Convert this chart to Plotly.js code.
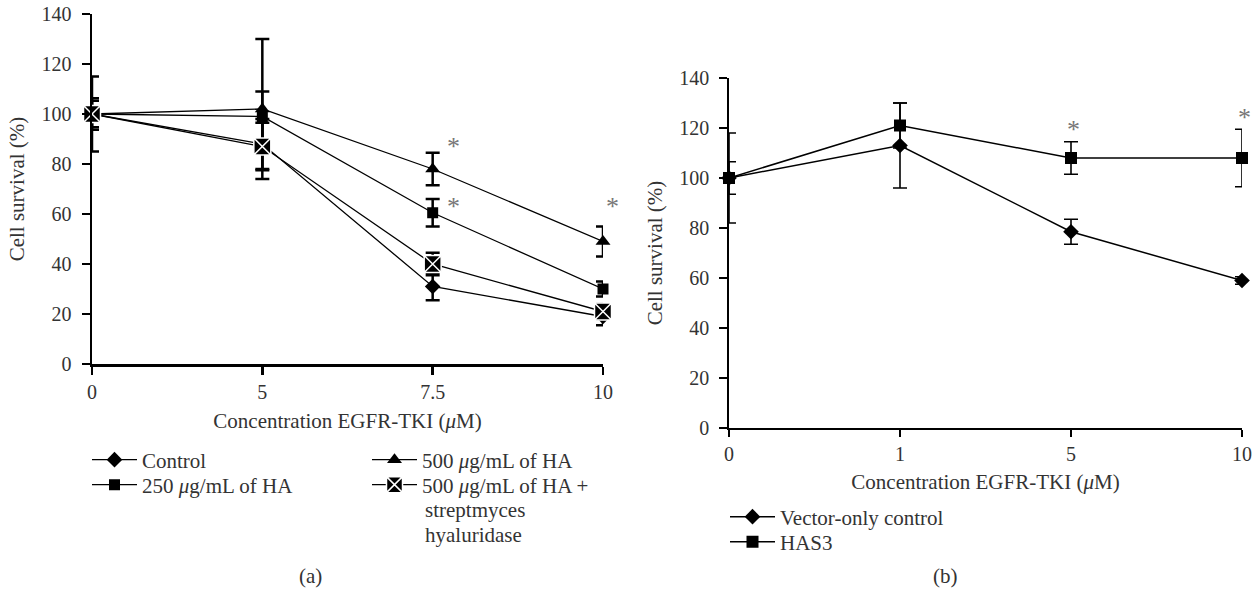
<!DOCTYPE html>
<html>
<head>
<meta charset="utf-8">
<script src="https://cdn.plot.ly/plotly-3.0.1.min.js"></script>
<style>html,body{margin:0;padding:0;background:#fff;}#chart{width:1256px;height:602px;}</style>
</head>
<body>
<div id="chart"></div>
<script>
// ---------- Panel (a) ----------
const concA = ["0", "5", "7.5", "10"];
const controlA = [100, 88, 31, 19];
const controlAErr = [15, 10, 5.5, 3.5];
const ha250 = [100, 99, 60.5, 30];
const ha250Err = [6.3, 10, 5.5, 3];
const ha500 = [100, 102, 78, 49];
const ha500Err = [5.3, 28, 6.5, 6];
const ha500Strep = [100, 87, 40, 21];
const ha500StrepErr = [3, 9.5, 4.5, 3];
const namesA = ["Control", "250 <i>μ</i>g/mL of HA", "500 <i>μ</i>g/mL of HA", "500 <i>μ</i>g/mL of HA +"];
const namesAextra = ["streptmyces", "hyaluridase"];
const starsA_x = ["7.5", "7.5", "10"];
const starsA_y = [89, 65, 65];
const starsA_shift = [21, 21, 9];

// ---------- Panel (b) ----------
const concB = ["0", "1", "5", "10"];
const vectorB = [100, 113, 78.5, 59];
const vectorBErr = [18, 17, 5, 1.5];
const has3B = [100, 121, 108, 108];
const has3BErr = [6.5, 9, 6.5, 11.5];
const namesB = ["Vector-only control", "HAS3"];
const starsB_x = ["5", "10"];
const starsB_y = [121.5, 126];

const yTicks = [0, 20, 40, 60, 80, 100, 120, 140];

const FONT = "Liberation Serif, Times New Roman, serif";
const TXT = "#333333";
const W = 1256, H = 602;

function tr(x, y, err, name, symbol, size, xa, ya, leg, lw, ew, mline) {
  return {
    type: "scatter", mode: "lines+markers", x: x, y: y, name: name,
    xaxis: xa, yaxis: ya, legend: leg, cliponaxis: false,
    line: {color: "#000", width: lw},
    marker: {symbol: symbol, size: size, color: "#000", line: mline || {width: 0, color: "#000"}},
    error_y: {type: "data", array: err, visible: true, color: "#000", thickness: ew, width: 7}
  };
}

const data = [
  tr(concA, controlA, controlAErr, namesA[0], "diamond", 12, "x", "y", "legend", 1.3, 2.5),
  tr(concA, ha250, ha250Err, namesA[1], "square", 11, "x", "y", "legend2", 1.3, 2.5),
  tr(concA, ha500, ha500Err, namesA[2], "triangle-up", 13, "x", "y", "legend3", 1.3, 2.5),
  tr(concA, ha500Strep, ha500StrepErr, namesA[3], "square-x", 17, "x", "y", "legend4", 1.3, 2.5, {width: 1.5, color: "#fff"}),
  tr(concB, vectorB, vectorBErr, namesB[0], "diamond", 12, "x2", "y2", "legend5", 1.5, 1.6),
  tr(concB, has3B, has3BErr, namesB[1], "square", 12, "x2", "y2", "legend6", 1.5, 1.6)
];

function xax(domain, cats, lw, tw, tl, tso, so) {
  return {
    domain: domain, type: "category", categoryorder: "array", categoryarray: cats,
    range: [0, cats.length - 1], showgrid: false, zeroline: false,
    showline: true, linecolor: "#000", linewidth: lw,
    ticks: "outside", ticklen: tl, tickwidth: tw, tickcolor: "#000",
    tickfont: {family: FONT, size: 20, color: TXT}, ticklabelstandoff: tso,
    title: {text: "Concentration EGFR-TKI (<i>μ</i>M)", font: {family: FONT, size: 21, color: TXT}, standoff: so},
    fixedrange: true
  };
}
function yax(domain, anchor, lw, tw, tl) {
  return {
    domain: domain, anchor: anchor, range: [0, 140], tickvals: yTicks,
    showgrid: false, zeroline: false, showline: true, linecolor: "#000", linewidth: lw,
    ticks: "outside", ticklen: tl, tickwidth: tw, tickcolor: "#000",
    tickfont: {family: FONT, size: 20, color: TXT}, ticklabelstandoff: 6,
    title: {text: "Cell survival (%)", font: {family: FONT, size: 21, color: TXT}, standoff: 11},
    fixedrange: true
  };
}

const annotations = [];
for (let i = 0; i < starsA_x.length; i++) {
  annotations.push({xref: "x", yref: "y", x: concA.indexOf(starsA_x[i]), y: starsA_y[i], xshift: starsA_shift[i], text: "*",
    showarrow: false, font: {family: FONT, size: 26, color: "#777"}, yanchor: "middle", yshift: -5});
}
for (let i = 0; i < starsB_x.length; i++) {
  annotations.push({xref: "x2", yref: "y2", x: concB.indexOf(starsB_x[i]), y: starsB_y[i], xshift: 2, text: "*",
    showarrow: false, font: {family: FONT, size: 26, color: "#777"}, yanchor: "middle", yshift: -5});
}
const extraY = [510, 535];
for (let i = 0; i < namesAextra.length; i++) {
  annotations.push({xref: "paper", yref: "paper", x: 423 / W, y: 1 - extraY[i] / H, text: namesAextra[i], showarrow: false,
    font: {family: FONT, size: 21, color: TXT}, xanchor: "left", yanchor: "middle"});
}
annotations.push({xref: "paper", yref: "paper", x: 310 / W, y: 1 - 576 / H, text: "(a)", showarrow: false,
  font: {family: FONT, size: 21, color: TXT}, xanchor: "center", yanchor: "middle"});
annotations.push({xref: "paper", yref: "paper", x: 945 / W, y: 1 - 576 / H, text: "(b)", showarrow: false,
  font: {family: FONT, size: 21, color: TXT}, xanchor: "center", yanchor: "middle"});

const legFont = {family: FONT, size: 21, color: TXT};
function leg(xpx, ypx) {
  return {x: xpx / W, y: 1 - (ypx - 20.5) / H, xanchor: "left", yanchor: "top", font: legFont,
    bgcolor: "rgba(0,0,0,0)", itemwidth: 45};
}
const layout = {
  width: W, height: H, margin: {l: 0, r: 0, t: 0, b: 0},
  paper_bgcolor: "#fff", plot_bgcolor: "#fff",
  xaxis: Object.assign(xax([92 / W, 603 / W], concA, 2.5, 2.5, 8, 0, 12), {anchor: "y"}),
  yaxis: yax([1 - 364 / H, 1 - 14 / H], "x", 2.5, 2.5, 8),
  xaxis2: Object.assign(xax([729 / W, 1242 / W], concB, 1.8, 1.6, 7, 0, 10), {anchor: "y2"}),
  yaxis2: yax([1 - 428 / H, 1 - 78 / H], "x2", 1.8, 1.6, 8),
  legend: leg(87, 460),
  legend2: leg(87, 485),
  legend3: leg(367, 460),
  legend4: leg(367, 485),
  legend5: leg(725, 517),
  legend6: leg(725, 542),
  annotations: annotations,
  showlegend: true
};

Plotly.newPlot("chart", data, layout, {displayModeBar: false, staticPlot: true});
</script>
</body>
</html>
